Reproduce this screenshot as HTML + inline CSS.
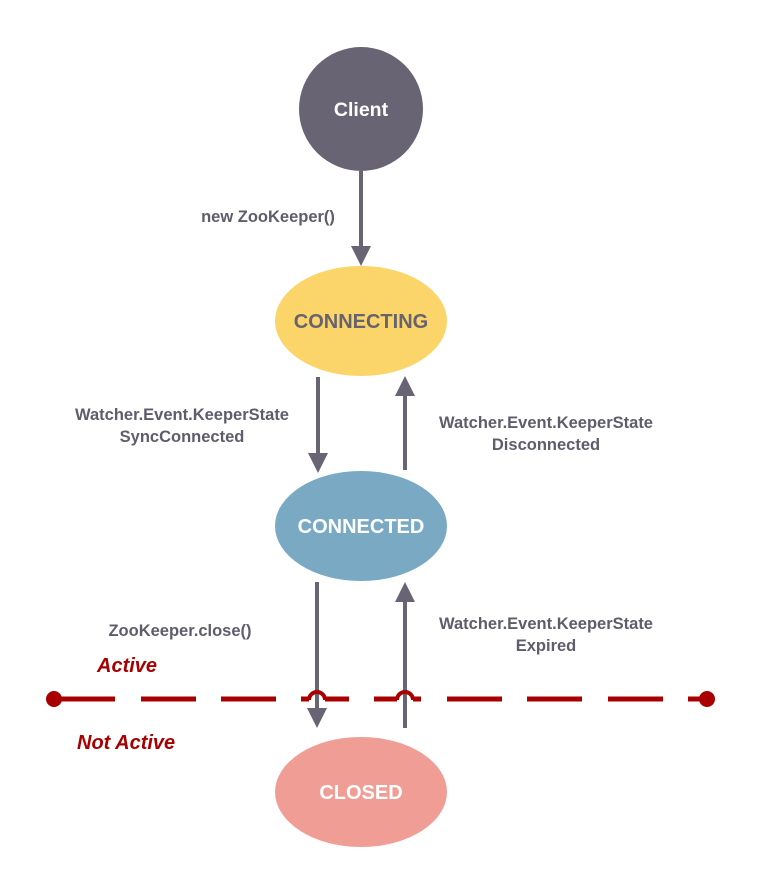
<!DOCTYPE html>
<html><head><meta charset="utf-8"><style>
html,body{margin:0;padding:0;background:#fff;}
</style></head><body>
<svg width="759" height="891" viewBox="0 0 759 891" xmlns="http://www.w3.org/2000/svg" font-family="Liberation Sans, sans-serif" font-weight="bold">
<defs>
<marker id="ah" markerWidth="5" markerHeight="5" refX="4" refY="2.5" orient="auto" markerUnits="strokeWidth">
<path d="M0,0 L5,2.5 L0,5 z" fill="#686473"/>
</marker>
</defs>
<circle cx="361" cy="109" r="62" fill="#686473"/>
<text x="361" y="116" text-anchor="middle" fill="#fff" font-size="19.5">Client</text>
<ellipse cx="361" cy="321" rx="86" ry="55" fill="#fbd56a"/>
<text x="361" y="328" text-anchor="middle" fill="#66636f" font-size="20">CONNECTING</text>
<ellipse cx="361" cy="526" rx="86" ry="55" fill="#79a9c3"/>
<text x="361" y="533" text-anchor="middle" fill="#fff" font-size="20">CONNECTED</text>
<ellipse cx="361" cy="792" rx="86" ry="55" fill="#f09d96"/>
<text x="361" y="799" text-anchor="middle" fill="#fff" font-size="20">CLOSED</text>
<g stroke="#686473" stroke-width="4" fill="none" marker-end="url(#ah)">
<line x1="361" y1="171" x2="361" y2="262"/>
<line x1="318" y1="377" x2="318" y2="469"/>
<line x1="405" y1="470" x2="405" y2="380"/>
<line x1="317" y1="582" x2="317" y2="724"/>
</g>
<g fill="#5f5c6b" font-size="16.5">
<text x="268" y="222" text-anchor="middle">new ZooKeeper()</text>
<text x="182" y="420" text-anchor="middle">Watcher.Event.KeeperState</text>
<text x="182" y="442" text-anchor="middle">SyncConnected</text>
<text x="546" y="428" text-anchor="middle">Watcher.Event.KeeperState</text>
<text x="546" y="450" text-anchor="middle">Disconnected</text>
<text x="180" y="636" text-anchor="middle">ZooKeeper.close()</text>
<text x="546" y="629" text-anchor="middle">Watcher.Event.KeeperState</text>
<text x="546" y="651" text-anchor="middle">Expired</text>
</g>
<line x1="54" y1="699" x2="707" y2="699" stroke="#a80000" stroke-width="5" stroke-dasharray="61 26 55 25 55 25 48 25 47 26 55 25 55 26 55 25 30"/>
<rect x="309" y="695" width="16" height="9" fill="#fff"/>
<rect x="397" y="695" width="16" height="9" fill="#fff"/>
<line x1="317" y1="690" x2="317" y2="708" stroke="#686473" stroke-width="4"/>
<line x1="405" y1="690" x2="405" y2="728" stroke="#686473" stroke-width="4"/>
<line x1="405" y1="728" x2="405" y2="586" stroke="#686473" stroke-width="4" marker-end="url(#ah)"/>
<path d="M309,700 A8,8 0 0 1 325,700 M397,700 A8,8 0 0 1 413,700" stroke="#a80000" stroke-width="4" fill="none"/>
<circle cx="54" cy="699" r="8" fill="#a80000"/>
<circle cx="707" cy="699" r="8" fill="#a80000"/>
<g fill="#a80000" font-size="20" font-style="italic">
<text x="97" y="672">Active</text>
<text x="77" y="749">Not Active</text>
</g>
</svg>
</body></html>
